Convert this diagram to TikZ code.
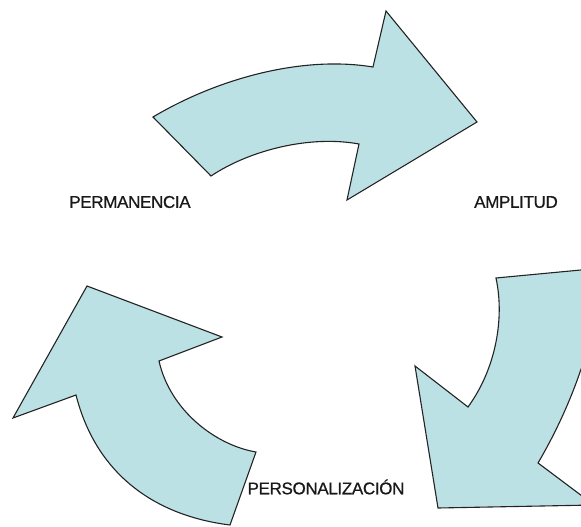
\documentclass[tikz,border=0pt]{standalone}
\usepackage{fontspec}
\setmainfont{Liberation Sans}
\newfontfamily\lblfont[FakeBold=0.7,LetterSpace=-2]{Liberation Sans}
\definecolor{arrowfill}{RGB}{188,225,229}
\definecolor{arrowline}{RGB}{35,35,35}
\begin{document}
\begin{tikzpicture}[x=1pt,y=-1pt,
  bigarrow/.style={fill=arrowfill,draw=arrowline,line width=1.1pt,line join=miter},
  lbl/.style={font=\lblfont\fontsize{17}{19}\selectfont,text=black!90,inner sep=0pt}]
\useasboundingbox (0,0) rectangle (581,527);
\begin{scope}
\clip (0,0) rectangle (581,527);
% top arrow
\draw[bigarrow] (153,117) .. controls (215,80) and (300,55) .. (373,67)
  -- (386,11) -- (477,122) -- (347,200) -- (359,144)
  .. controls (310,135) and (250,150) .. (211,176) -- cycle;
% right arrow
\draw[bigarrow] (496,278) -- (602,268)
  .. controls (598,330) and (575,400) .. (538,463)
  -- (594,505) -- (438,508) -- (415,366) -- (468,407)
  .. controls (495,370) and (505,320) .. (496,278) -- cycle;
% left arrow
\draw[bigarrow] (87,286) -- (222,337) -- (159,361)
  .. controls (170,410) and (215,445) .. (256,452)
  -- (230,525)
  .. controls (150,515) and (95,470) .. (76,395)
  -- (13,418) -- cycle;
\end{scope}
\node[lbl] (perm) at (130,202) {PERMANENCIA};
\node[lbl] (ampl) at (516,202) {AMPLITUD};
\node[lbl] (pers) at (326,487) {PERSONALIZACIÓN};
\end{tikzpicture}
\end{document}
